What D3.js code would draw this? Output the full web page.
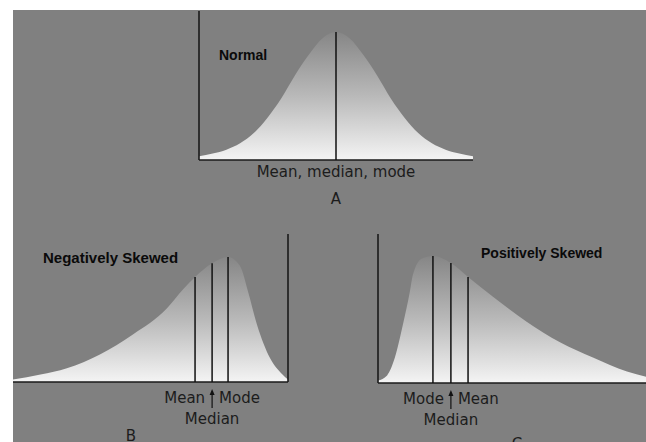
<!DOCTYPE html>
<html>
<head>
<meta charset="utf-8">
<script src="https://cdn.jsdelivr.net/npm/d3@7"></script>
<style>
  body { margin: 0; background: #fff; }
  .stat-label { font-family: 'DejaVu Sans', sans-serif; font-size: 15px; fill: #1c1c1c; }
  .title { font-family: 'Liberation Sans', Arial, sans-serif; font-weight: bold; fill: #0a0a0a; }
</style>
</head>
<body>
<svg id="chart"></svg>
<script>
// shapes of the three distributions (x: 0-100 along baseline, y: 0-100 of peak height)
const normalX = [0, 5, 10, 15, 20, 25, 30, 35, 40, 45, 50, 55, 60, 65, 70, 75, 80, 85, 90, 95, 100];
const normalY = [3, 5, 8, 13, 21, 33, 48, 66, 82, 95, 100, 95, 82, 66, 48, 33, 21, 13, 8, 5, 3];

const negX = [0, 10, 19.6, 31.6, 43.6, 56, 61.8, 66.2, 72.4, 78.2, 82.5, 85.5, 88.7, 93.5, 98, 100];
const negY = [2, 6, 11, 22, 38, 59, 74, 84, 95, 100, 93, 72, 46, 19, 6, 2];

const posX = [0, 3.4, 6.3, 9.3, 11.9, 13, 16.4, 20.5, 27.2, 33.6, 42.9, 55.6, 67.9, 80.2, 92.9, 100];
const posY = [2, 6, 20, 46, 72, 85, 98, 100, 94.5, 83.5, 68, 48, 32, 20, 9, 5];

// central tendency markers
const normalStats = ['Mean, median, mode'];
const normalStatX = [50];
const normalStatY = [100];

const negStats = ['Mean', 'Median', 'Mode'];
const negStatX = [66.2, 72.4, 78.2];
const negStatY = [84, 95, 100];

const posStats = ['Mode', 'Median', 'Mean'];
const posStatX = [20.5, 27.2, 33.6];
const posStatY = [100, 94.5, 83.5];

const width = 646;
const height = 442;

const svg = d3.select('#chart')
  .attr('width', width)
  .attr('height', height);

svg.append('rect')
  .attr('x', 13).attr('y', 10)
  .attr('width', width - 13).attr('height', height - 10)
  .attr('fill', '#808080');

const defs = svg.append('defs');

const panels = [
  {
    id: 'A', xs: normalX, ys: normalY, stats: normalStats, statX: normalStatX, statY: normalStatY,
    xRange: [199, 473], yRange: [160, 32], axisX: 199, axisTop: 11,
    title: 'Normal', titleX: 219, titleY: 60, titleSize: 14,
    letter: 'A', letterX: 336, letterY: 204
  },
  {
    id: 'B', xs: negX, ys: negY, stats: negStats, statX: negStatX, statY: negStatY,
    xRange: [13, 288], yRange: [382, 257], axisX: 288, axisTop: 234,
    title: 'Negatively Skewed', titleX: 43, titleY: 263, titleSize: 15,
    letter: 'B', letterX: 131, letterY: 441
  },
  {
    id: 'C', xs: posX, ys: posY, stats: posStats, statX: posStatX, statY: posStatY,
    xRange: [378, 646], yRange: [383, 256], axisX: 378, axisTop: 234,
    title: 'Positively Skewed', titleX: 481, titleY: 258, titleSize: 14,
    letter: 'C', letterX: 517, letterY: 449
  }
];

panels.forEach(p => drawPanel(p));

function drawPanel(p) {
  const x = d3.scaleLinear().domain([0, 100]).range(p.xRange);
  const y = d3.scaleLinear().domain([0, 100]).range(p.yRange);
  const base = y(0);

  const grad = defs.append('linearGradient')
    .attr('id', 'fill' + p.id)
    .attr('gradientUnits', 'userSpaceOnUse')
    .attr('x1', 0).attr('x2', 0)
    .attr('y1', y(100)).attr('y2', base);
  grad.append('stop').attr('offset', 0).attr('stop-color', '#868686');
  grad.append('stop').attr('offset', 0.5).attr('stop-color', '#b9b9b9');
  grad.append('stop').attr('offset', 1).attr('stop-color', '#f4f4f4');

  const pts = p.xs.map((v, i) => [v, p.ys[i]]);

  const area = d3.area()
    .x(d => x(d[0]))
    .y0(base)
    .y1(d => y(d[1]))
    .curve(d3.curveMonotoneX);

  svg.append('path')
    .datum(pts)
    .attr('d', area)
    .attr('fill', 'url(#fill' + p.id + ')');

  // baseline and vertical axis
  svg.append('line')
    .attr('x1', x(0)).attr('x2', x(100))
    .attr('y1', base).attr('y2', base)
    .attr('stroke', '#1a1a1a').attr('stroke-width', 1.6);

  svg.append('line')
    .attr('x1', p.axisX).attr('x2', p.axisX)
    .attr('y1', p.axisTop).attr('y2', base)
    .attr('stroke', '#1a1a1a').attr('stroke-width', 1.6);

  // stat lines
  svg.selectAll(null)
    .data(p.statX)
    .enter().append('line')
      .attr('x1', d => x(d)).attr('x2', d => x(d))
      .attr('y1', (d, i) => y(p.statY[i])).attr('y2', base)
      .attr('stroke', '#111').attr('stroke-width', 1.5);

  // labels
  if (p.stats.length === 1) {
    svg.append('text')
      .attr('class', 'stat-label')
      .attr('x', x(p.statX[0])).attr('y', base + 17)
      .attr('text-anchor', 'middle')
      .text(p.stats[0]);
  } else {
    const mid = x(p.statX[1]);
    svg.append('text')
      .attr('class', 'stat-label')
      .attr('x', mid - 7).attr('y', base + 21)
      .attr('text-anchor', 'end')
      .text(p.stats[0]);
    svg.append('text')
      .attr('class', 'stat-label')
      .attr('x', mid + 7).attr('y', base + 21)
      .attr('text-anchor', 'start')
      .text(p.stats[2]);
    svg.append('text')
      .attr('class', 'stat-label')
      .attr('x', mid).attr('y', base + 42)
      .attr('text-anchor', 'middle')
      .text(p.stats[1]);
    // arrow pointing up at median
    svg.append('line')
      .attr('x1', mid).attr('x2', mid)
      .attr('y1', base + 10).attr('y2', base + 26)
      .attr('stroke', '#111').attr('stroke-width', 1.2);
    svg.append('path')
      .attr('d', `M${mid},${base + 7}L${mid - 2.5},${base + 13}L${mid + 2.5},${base + 13}Z`)
      .attr('fill', '#111');
  }

  svg.append('text')
    .attr('class', 'title')
    .attr('x', p.titleX).attr('y', p.titleY)
    .style('font-size', p.titleSize + 'px')
    .text(p.title);

  svg.append('text')
    .attr('class', 'stat-label')
    .attr('x', p.letterX).attr('y', p.letterY)
    .attr('text-anchor', 'middle')
    .text(p.letter);
}
</script>
</body>
</html>
